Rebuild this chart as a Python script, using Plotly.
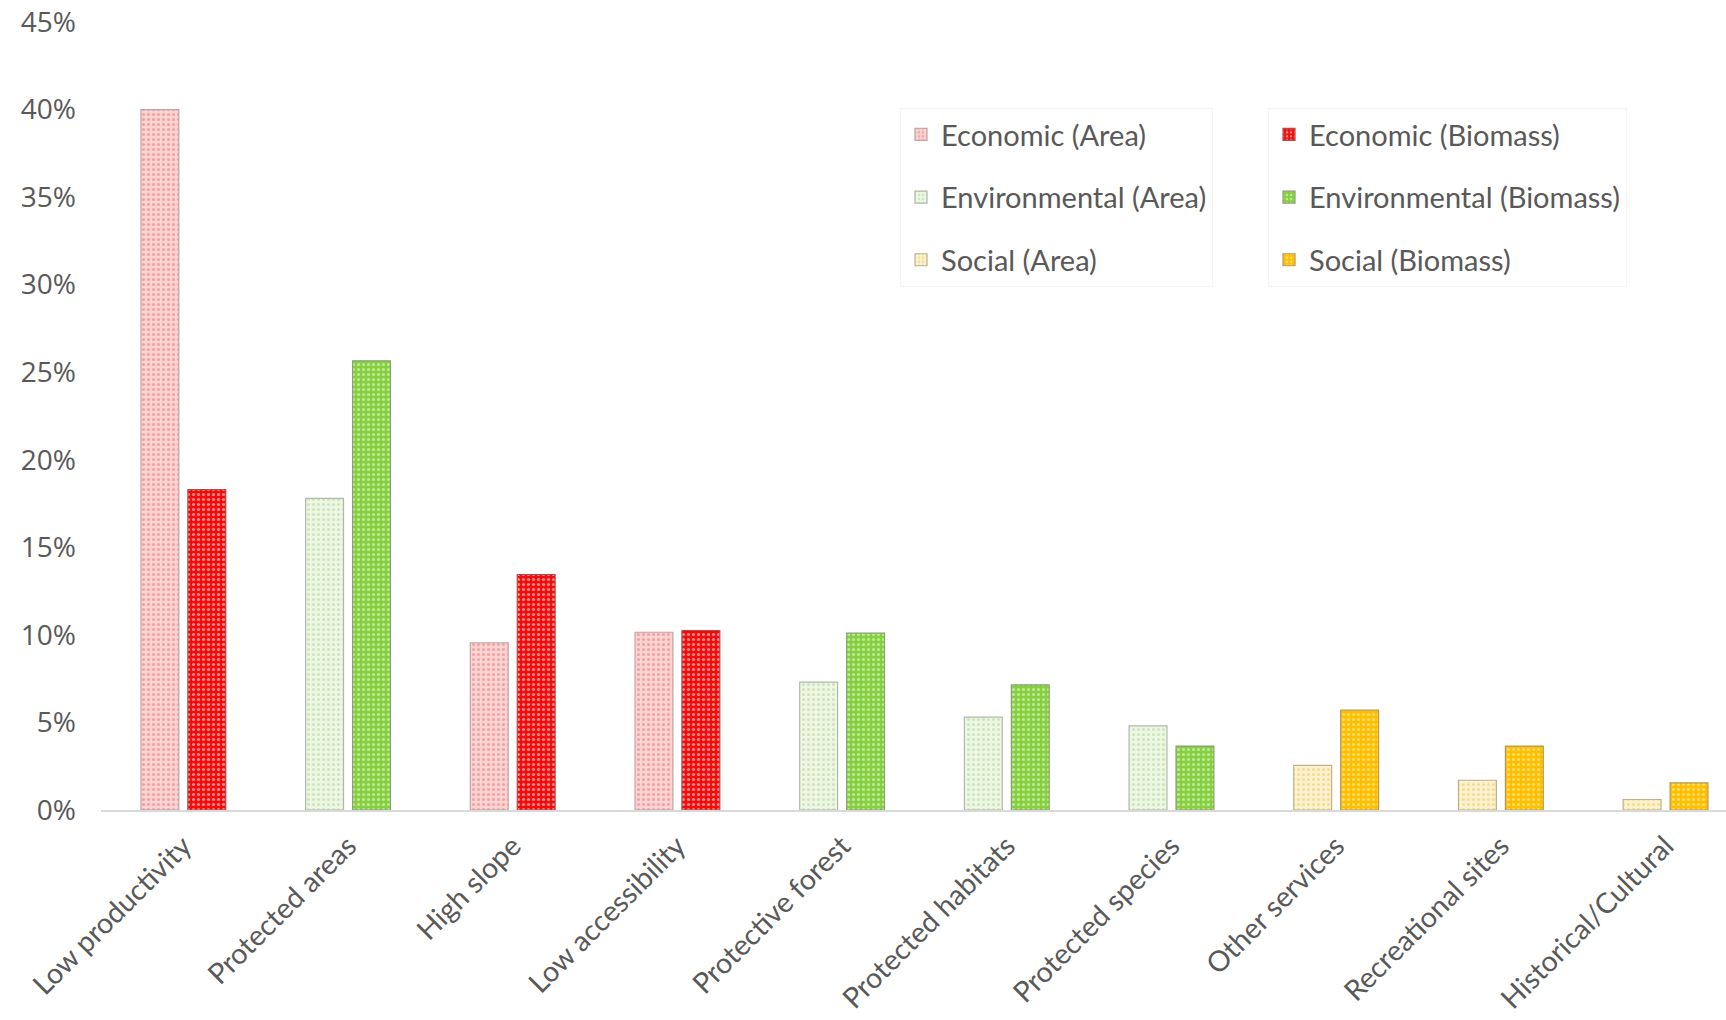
import plotly.graph_objects as go

# Share of forest excluded from availability, by restriction
categories = [
    "Low productivity", "Protected areas", "High slope", "Low accessibility",
    "Protective forest", "Protected habitats", "Protected species",
    "Other services", "Recreational sites", "Historical/Cultural",
]
# Restriction type of each category
kind = ["Economic", "Environmental", "Economic", "Economic",
        "Environmental", "Environmental", "Environmental",
        "Social", "Social", "Social"]
# Percent of area / biomass
area_pct = [40.0, 17.8, 9.55, 10.15, 7.3, 5.3, 4.8, 2.55, 1.7, 0.6]
biomass_pct = [18.3, 25.65, 13.45, 10.25, 10.1, 7.15, 3.65, 5.7, 3.65, 1.55]

W, H = 1726, 1020
ML, MR, MT, MB = 101, 0, 22, 210
PW, PH = W - ML - MR, H - MT - MB
FONT = "Lato, 'Open Sans', sans-serif"
GREY = "#595959"

styles = {
    ("Economic", "Area"): dict(bg="#fbd3d3", fg="#f0a3a3", line="#c4a4a4"),
    ("Economic", "Biomass"): dict(bg="#f20d0d", fg="#ff8a8a", line="#b04a4a"),
    ("Environmental", "Area"): dict(bg="#eef7e6", fg="#cfe6b8", line="#b2b8aa"),
    ("Environmental", "Biomass"): dict(bg="#86cf42", fg="#bdeb8f", line="#8aa078"),
    ("Social", "Area"): dict(bg="#fdf2cf", fg="#f3dc95", line="#c0b08a"),
    ("Social", "Biomass"): dict(bg="#ffbf00", fg="#ffdd6a", line="#b49a5a"),
}

BAR_W = 0.23
offsets = {"Area": -0.2575, "Biomass": 0.0275}

fig = go.Figure()
for measure, values, legend in (("Area", area_pct, "legend"),
                                ("Biomass", biomass_pct, "legend2")):
    for k in ("Economic", "Environmental", "Social"):
        xs = [c for c, t in zip(categories, kind) if t == k]
        ys = [v for v, t in zip(values, kind) if t == k]
        st = styles[(k, measure)]
        fig.add_trace(go.Bar(
            x=xs, y=ys, name=f"{k} ({measure})",
            width=BAR_W, offset=offsets[measure],
            marker=dict(
                color=st["bg"],
                line=dict(color=st["line"], width=1.2),
                pattern=dict(shape=".", bgcolor=st["bg"], fgcolor=st["fg"],
                             size=5, solidity=0.3, fillmode="replace"),
            ),
            legend=legend, legendgroup=f"{k}{measure}",
        ))


def px_x(px):
    return (px - ML) / PW


def px_y(py):
    return (H - MB - py) / PH


legend_common = dict(
    xanchor="left", yanchor="top",
    font=dict(family=FONT, size=29, color=GREY),
    bgcolor="rgba(255,255,255,0)", bordercolor="#f5f5f5", borderwidth=1,
    tracegroupgap=22, itemwidth=30, orientation="v",
)

fig.update_layout(
    width=W, height=H,
    margin=dict(l=ML, r=MR, t=MT, b=MB, autoexpand=False),
    paper_bgcolor="white", plot_bgcolor="white",
    barmode="overlay",
    showlegend=True,
    legend=dict(x=px_x(900), y=px_y(108), **legend_common),
    legend2=dict(x=px_x(1268), y=px_y(108), **legend_common),
    xaxis=dict(
        type="category", categoryorder="array", categoryarray=categories,
        range=[-0.5, 9.367], tickangle=-45,
        tickfont=dict(family=FONT, size=28.5, color=GREY),
        showline=True, linecolor="#d9d9d9", linewidth=2,
        showgrid=False, ticks="", ticklabelstandoff=6,
    ),
    yaxis=dict(
        range=[0, 45], dtick=5, ticksuffix="%",
        tickfont=dict(family="'Open Sans', sans-serif", size=28, color=GREY),
        showgrid=False, zeroline=False, showline=False,
        ticks="", ticklabelstandoff=24,
    ),
)

fig.write_html("out.html")
